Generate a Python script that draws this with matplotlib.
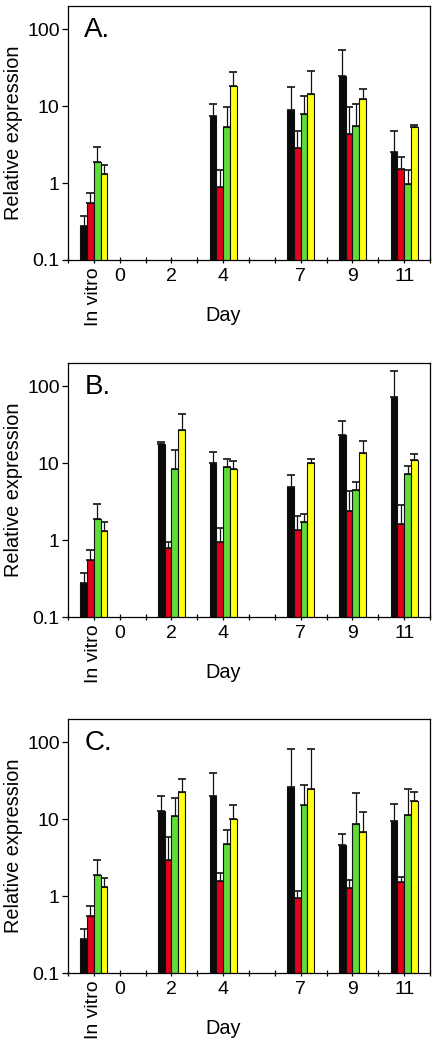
import numpy as np
import matplotlib
matplotlib.use('Agg')
import matplotlib.pyplot as plt

plt.rcParams['font.family'] = ['Liberation Sans', 'DejaVu Sans']

nan = np.nan
categories = ['In vitro', '0', '2', '4', '7', '9', '11']
series_colors = ['#0a0a0a', '#e4001a', '#5fdc3a', '#ffff14']

# panel A
black_a = [0.28, nan, nan, 7.5, 8.8, 24.3, 2.55]
black_a_err = [0.09, nan, nan, 3.2, 8.8, 28.7, 2.25]
red_a = [0.55, nan, nan, 0.88, 2.85, 4.4, 1.54]
red_a_err = [0.20, nan, nan, 0.58, 1.95, 5.2, 0.66]
green_a = [1.85, nan, nan, 5.4, 7.8, 5.5, 0.98]
green_a_err = [1.05, nan, nan, 4.4, 5.8, 5.2, 0.51]
yellow_a = [1.30, nan, nan, 18.2, 14.5, 12.2, 5.33]
yellow_a_err = [0.40, nan, nan, 9.2, 14.0, 4.6, 0.27]

# panel B
black_b = [0.28, nan, 17.5, 10.0, 4.9, 23.4, 71.6]
black_b_err = [0.09, nan, 1.5, 3.9, 2.1, 11.8, 85.0]
red_b = [0.55, nan, 0.79, 0.93, 1.34, 2.4, 1.62]
red_b_err = [0.20, nan, 0.16, 0.51, 0.72, 1.9, 1.25]
green_b = [1.85, nan, 8.3, 8.8, 1.72, 4.5, 7.3]
green_b_err = [1.05, nan, 6.3, 2.6, 0.47, 1.2, 1.8]
yellow_b = [1.30, nan, 27.2, 8.4, 10.1, 13.5, 10.9]
yellow_b_err = [0.40, nan, 16.7, 2.2, 1.1, 6.0, 2.3]

# panel C
black_c = [0.28, nan, 12.9, 20.0, 26.0, 4.6, 9.5]
black_c_err = [0.09, nan, 7.1, 19.5, 55.8, 1.9, 6.3]
red_c = [0.55, nan, 2.95, 1.56, 0.94, 1.27, 1.51]
red_c_err = [0.20, nan, 2.85, 0.46, 0.24, 0.35, 0.24]
green_c = [1.85, nan, 11.1, 4.7, 15.4, 8.7, 11.3]
green_c_err = [1.05, nan, 7.8, 2.6, 12.2, 13.0, 13.4]
yellow_c = [1.30, nan, 22.3, 10.1, 24.5, 6.7, 17.4]
yellow_c_err = [0.40, nan, 11.4, 5.0, 56.5, 5.6, 4.9]

panels = [
  ('A.', [black_a, red_a, green_a, yellow_a], [black_a_err, red_a_err, green_a_err, yellow_a_err]),
  ('B.', [black_b, red_b, green_b, yellow_b], [black_b_err, red_b_err, green_b_err, yellow_b_err]),
  ('C.', [black_c, red_c, green_c, yellow_c], [black_c_err, red_c_err, green_c_err, yellow_c_err]),
]

# x position: in vitro at 1, day d at d+2
def cat_pos(c):
  return 1 if c == 'In vitro' else int(c) + 2

xpos = np.array([cat_pos(c) for c in categories], dtype=float)

W, H = 439, 1051
fig = plt.figure(figsize=(W/100, H/100), dpi=100)
ax_tops = [6, 363, 719]
ax_h = 254
ax_left, ax_right = 68, 430

fs_ticks = 14
fs_label = 14.3
fs_letter = 20
bar_w = 0.26
offsets = np.array([-1.5, -0.5, 0.5, 1.5]) * bar_w

for (letter, vals, errs), top in zip(panels, ax_tops):
  ax = fig.add_axes([ax_left/W, 1 - (top + ax_h)/H, (ax_right - ax_left)/W, ax_h/H])
  for k in range(4):
    v = np.array(vals[k], dtype=float)
    e = np.array(errs[k], dtype=float)
    ok = ~np.isnan(v)
    x = xpos[ok] + offsets[k]
    ax.errorbar(x, v[ok], yerr=[np.zeros(ok.sum()), e[ok]], fmt='none',
                ecolor='#111111', elinewidth=0.9, capsize=2.6, capthick=1.2, zorder=1)
    ax.bar(x, v[ok], width=bar_w, color=series_colors[k], edgecolor='#111111',
           linewidth=0.8, zorder=2)
  ax.set_yscale('log')
  ax.set_ylim(0.1, 200)
  ax.set_xlim(0, 14)
  ax.set_yticks([0.1, 1, 10, 100])
  ax.set_yticklabels(['0.1', '1', '10', '100'], fontsize=fs_ticks)
  ax.yaxis.set_minor_locator(matplotlib.ticker.NullLocator())
  ax.set_xticks(range(15))
  labels = [''] * 15
  for c, p in zip(categories, xpos):
    labels[int(p)] = c
  ax.set_xticklabels(labels, fontsize=fs_ticks)
  for t in ax.get_xticklabels():
    if t.get_text() == 'In vitro':
      t.set_rotation(90)
      t.set_va('top')
  ax.tick_params(axis='x', direction='inout', length=5, width=0.9, pad=3)
  ax.tick_params(axis='y', direction='out', length=4, width=0.9, pad=2)
  [sp.set_linewidth(0.9) for sp in ax.spines.values()]
  ax.set_ylabel('Relative expression', fontsize=fs_label, labelpad=3)
  ax.text(6, -0.22, 'Day', transform=ax.get_xaxis_transform(), ha='center', va='center',
          fontsize=fs_label)
  ax.text(0.045, 0.905, letter, transform=ax.transAxes, ha='left', va='center',
          fontsize=fs_letter)

fig.savefig('out.png', dpi=100, facecolor='white')
